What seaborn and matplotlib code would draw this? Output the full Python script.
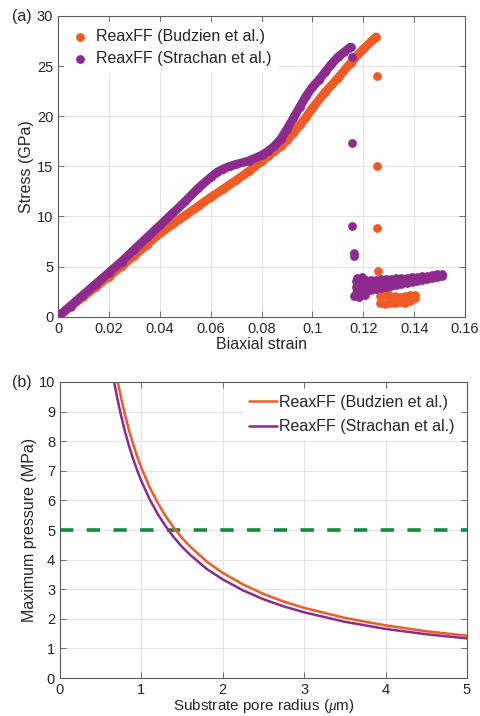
import numpy as np
import pandas as pd
import matplotlib
matplotlib.use("Agg")
import matplotlib.pyplot as plt
import seaborn as sns

# ---------------- data ----------------
strain_budzien = [0, 0.005, 0.01, 0.015, 0.02, 0.025, 0.03, 0.035, 0.04, 0.045, 0.05,
                  0.055, 0.06, 0.065, 0.07, 0.075, 0.08, 0.0825, 0.085, 0.0875, 0.09,
                  0.0925, 0.095, 0.0975, 0.1, 0.105, 0.11, 0.115, 0.12, 0.125]
stress_budzien = [0, 1.0, 2.0, 3.0, 4.0, 5.05, 6.1, 7.2, 8.3, 9.2, 10.1,
                  11.0, 11.9, 12.75, 13.6, 14.5, 15.5, 16.0, 16.5, 17.0, 17.6,
                  18.3, 19.1, 19.9, 20.8, 22.4, 23.8, 25.3, 26.7, 27.9]

strain_strachan = [0, 0.005, 0.01, 0.015, 0.02, 0.025, 0.03, 0.035, 0.04, 0.045, 0.05,
                   0.055, 0.06, 0.0625, 0.065, 0.0675, 0.07, 0.075, 0.08, 0.0825, 0.085,
                   0.0875, 0.09, 0.0925, 0.095, 0.0975, 0.1, 0.1025, 0.105, 0.1075,
                   0.11, 0.1125, 0.115]
stress_strachan = [0, 1.1, 2.2, 3.3, 4.4, 5.5, 6.7, 7.9, 9.1, 10.3, 11.5,
                   12.8, 13.9, 14.4, 14.75, 15.0, 15.2, 15.55, 16.1, 16.5, 17.0,
                   17.7, 18.7, 19.8, 20.9, 22.0, 22.9, 23.6, 24.4, 25.2,
                   25.9, 26.4, 26.9]

# isolated failure points (drop after fracture)
drop_strain_budzien = [0.1253, 0.1253, 0.1255, 0.1259, 0.1262]
drop_stress_budzien = [24.0, 15.0, 8.8, 4.6, 3.6]
drop_strain_strachan = [0.1154, 0.1154, 0.1156, 0.1162, 0.1165]
drop_stress_strachan = [25.95, 17.3, 9.0, 6.4, 6.1]

# post-failure clusters
cluster_strain_budzien = [0.1265, 0.1285, 0.1305, 0.1325, 0.1345, 0.1365, 0.1385, 0.1405,
                          0.1265, 0.1285, 0.1305, 0.1325, 0.1345, 0.1365, 0.1385, 0.1405,
                          0.1275, 0.1295]
cluster_stress_budzien = [1.4, 1.3, 1.4, 1.4, 1.5, 1.4, 1.6, 1.9,
                          2.1, 2.2, 2.0, 2.1, 2.0, 2.1, 2.2, 2.2,
                          2.5, 2.5]
cluster_strain_strachan = [0.117, 0.119, 0.121, 0.123, 0.125, 0.127, 0.129, 0.131, 0.133,
                           0.135, 0.137, 0.139, 0.141, 0.143, 0.145, 0.147, 0.149, 0.151,
                           0.117, 0.119, 0.121, 0.123, 0.125, 0.127, 0.129, 0.131, 0.133,
                           0.135, 0.137, 0.139, 0.141, 0.143, 0.145, 0.147, 0.149, 0.151,
                           0.117, 0.119, 0.121, 0.123, 0.125, 0.127, 0.129, 0.131, 0.133,
                           0.135, 0.137, 0.139, 0.141, 0.143, 0.145, 0.147, 0.149, 0.151,
                           0.1165, 0.1185, 0.1205, 0.1175, 0.1195]
cluster_stress_strachan = [2.4, 2.45, 2.55, 2.65, 2.75, 2.9, 3.0, 3.1, 3.2,
                           3.3, 3.4, 3.5, 3.6, 3.65, 3.75, 3.85, 3.95, 4.1,
                           3.0, 3.05, 3.1, 3.15, 3.25, 3.3, 3.35, 3.45, 3.5,
                           3.55, 3.6, 3.7, 3.75, 3.8, 3.9, 3.95, 4.05, 4.2,
                           3.6, 3.6, 3.65, 3.65, 3.7, 3.75, 3.75, 3.8, 3.85,
                           3.85, 3.9, 3.95, 4.0, 4.05, 4.1, 4.15, 4.25, 4.3,
                           2.1, 2.0, 2.2, 3.9, 3.95]

radius_budzien = [0.71, 0.75, 0.8, 0.85, 0.9, 0.95, 1.0, 1.1, 1.2, 1.3, 1.4, 1.5, 1.6,
                  1.8, 2.0, 2.25, 2.5, 2.75, 3.0, 3.5, 4.0, 4.5, 5.0]
pressure_budzien = [10.0, 9.47, 8.88, 8.35, 7.89, 7.47, 7.1, 6.45, 5.92, 5.46, 5.07, 4.73,
                    4.44, 3.94, 3.55, 3.16, 2.84, 2.58, 2.37, 2.03, 1.78, 1.58, 1.43]
radius_strachan = [0.665, 0.7, 0.75, 0.8, 0.85, 0.9, 0.95, 1.0, 1.1, 1.2, 1.3, 1.4, 1.5,
                   1.6, 1.8, 2.0, 2.25, 2.5, 2.75, 3.0, 3.5, 4.0, 4.5, 5.0]
pressure_strachan = [10.0, 9.5, 8.87, 8.31, 7.82, 7.39, 7.0, 6.65, 6.05, 5.54, 5.12, 4.75,
                     4.43, 4.16, 3.69, 3.33, 2.96, 2.66, 2.42, 2.22, 1.9, 1.66, 1.48, 1.34]
threshold_pressure = 5.0

label_budzien = "ReaxFF (Budzien et al.)"
label_strachan = "ReaxFF (Strachan et al.)"
xticks_a = [0, 0.02, 0.04, 0.06, 0.08, 0.1, 0.12, 0.14, 0.16]
xticklabels_a = ["0", "0.02", "0.04", "0.06", "0.08", "0.1", "0.12", "0.14", "0.16"]
yticks_a = [0, 5, 10, 15, 20, 25, 30]
xticks_b = [0, 1, 2, 3, 4, 5]
yticks_b = [0, 1, 2, 3, 4, 5, 6, 7, 8, 9, 10]

# ---------------- style ----------------
sns.set_theme(style="whitegrid")
plt.rcParams['font.family'] = ['Liberation Sans', 'DejaVu Sans']
plt.rcParams['mathtext.fontset'] = 'custom'
plt.rcParams['mathtext.it'] = 'Liberation Serif:italic'
plt.rcParams['mathtext.rm'] = 'Liberation Sans'

ORANGE = "#f15a24"
PURPLE = "#8c2a8e"
GREEN = "#138a3c"
TXT = "#262626"
FS_T = 10.5   # tick labels
FS_L = 11.5   # axis labels / legend

fig = plt.figure(figsize=(4.81, 7.16), dpi=100)
ax1 = fig.add_axes([0.1206, 0.5577, 0.8462, 0.42])
ax2 = fig.add_axes([0.1247, 0.0530, 0.8462, 0.4135])


def style_axes(ax):
    ax.set_facecolor("white")
    for s in ax.spines.values():
        s.set_color("#5a5a5a")
        s.set_linewidth(0.8)
        s.set_visible(True)
    ax.grid(True, color="#e3e3e3", linewidth=0.7)
    ax.tick_params(direction="in", length=4, width=0.6, color="#5a5a5a",
                   top=True, right=True, bottom=True, left=True,
                   labelsize=FS_T, labelcolor=TXT, pad=3.5)
    ax.set_axisbelow(True)


# ---------------- panel (a) ----------------
df_b = pd.DataFrame({"strain": strain_budzien, "stress": stress_budzien})
df_s = pd.DataFrame({"strain": strain_strachan, "stress": stress_strachan})
df_bd = pd.DataFrame({"strain": drop_strain_budzien + cluster_strain_budzien,
                      "stress": drop_stress_budzien + cluster_stress_budzien})
df_sd = pd.DataFrame({"strain": drop_strain_strachan + cluster_strain_strachan,
                      "stress": drop_stress_strachan + cluster_stress_strachan})

msize = 40
lw_band = 6.3
sns.lineplot(data=df_b, x="strain", y="stress", ax=ax1, color=ORANGE, lw=lw_band,
             solid_capstyle="round", solid_joinstyle="round", sort=False,
             legend=False, zorder=2)
sns.scatterplot(data=df_b, x="strain", y="stress", ax=ax1, color=ORANGE, s=msize,
                linewidth=0, label=label_budzien, zorder=2)
sns.scatterplot(data=df_bd, x="strain", y="stress", ax=ax1, color=ORANGE, s=msize,
                linewidth=0, zorder=2)
sns.lineplot(data=df_s, x="strain", y="stress", ax=ax1, color=PURPLE, lw=lw_band,
             solid_capstyle="round", solid_joinstyle="round", sort=False,
             legend=False, zorder=3)
sns.scatterplot(data=df_s, x="strain", y="stress", ax=ax1, color=PURPLE, s=msize,
                linewidth=0, label=label_strachan, zorder=3)
sns.scatterplot(data=df_sd, x="strain", y="stress", ax=ax1, color=PURPLE, s=msize,
                linewidth=0, zorder=3)

style_axes(ax1)
ax1.set_xlim(0, 0.16)
ax1.set_ylim(0, 30)
ax1.set_xticks(xticks_a)
ax1.set_xticklabels(xticklabels_a)
ax1.set_yticks(yticks_a)
ax1.set_xlabel("Biaxial strain", fontsize=FS_L, color=TXT, labelpad=1)
ax1.set_ylabel("Stress (GPa)", fontsize=FS_L, color=TXT, labelpad=2)
leg1 = ax1.legend(loc="upper left", frameon=True, fontsize=FS_L, markerscale=1.0,
                  handletextpad=0.4, labelspacing=0.45, borderaxespad=0.35,
                  handlelength=1.2, borderpad=0.45)
leg1.get_frame().set_facecolor("white")
leg1.get_frame().set_edgecolor("none")
leg1.get_frame().set_alpha(1)
for t in leg1.get_texts():
    t.set_color(TXT)

# ---------------- panel (b) ----------------
df_pb = pd.DataFrame({"r": radius_budzien, "p": pressure_budzien})
df_ps = pd.DataFrame({"r": radius_strachan, "p": pressure_strachan})
sns.lineplot(data=df_pb, x="r", y="p", ax=ax2, color=ORANGE, lw=1.8, label=label_budzien)
sns.lineplot(data=df_ps, x="r", y="p", ax=ax2, color=PURPLE, lw=1.8, label=label_strachan)
ax2.axhline(threshold_pressure, color=GREEN, lw=2.6, dashes=(3.7, 3.7), zorder=1.5)

style_axes(ax2)
ax2.set_xlim(0, 5)
ax2.set_ylim(0, 10)
ax2.set_xticks(xticks_b)
ax2.set_yticks(yticks_b)
ax2.set_xlabel(r"Substrate pore radius ($\mu$m)", fontsize=11, color=TXT, labelpad=0)
ax2.set_ylabel("Maximum pressure (MPa)", fontsize=FS_L, color=TXT, labelpad=1)
leg2 = ax2.legend(loc="upper right", frameon=True, fontsize=FS_L,
                  handletextpad=0.1, labelspacing=0.6, borderaxespad=0.45,
                  handlelength=1.75, borderpad=0.35)
leg2.get_frame().set_facecolor("white")
leg2.get_frame().set_edgecolor("none")
leg2.get_frame().set_alpha(1)
for t in leg2.get_texts():
    t.set_color(TXT)

fig.text(12 / 481, 1 - 16 / 716, "(a)", fontsize=FS_L, color=TXT, va="center", ha="left")
fig.text(12 / 481, 1 - 382 / 716, "(b)", fontsize=FS_L, color=TXT, va="center", ha="left")

fig.savefig("out.png", dpi=100)
